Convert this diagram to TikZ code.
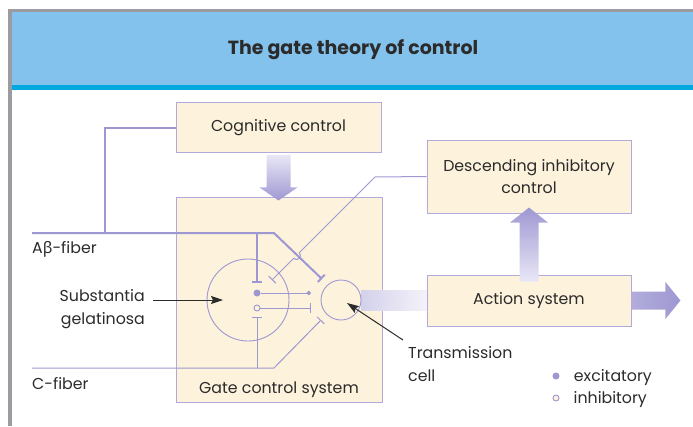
\documentclass[tikz,border=0pt]{standalone}
\usepackage{fontspec}
\setmainfont{Poppins}
\newfontfamily\greekfont{Noto Sans}
\usetikzlibrary{arrows.meta,positioning,calc}
\definecolor{frame_gray}{HTML}{9B9BA0}
\definecolor{header_blue}{HTML}{82C2EC}
\definecolor{header_line}{HTML}{00A8E0}
\definecolor{cream}{HTML}{FDF2DC}
\definecolor{lilac}{HTML}{9E98D2}
\definecolor{lilac_box}{HTML}{B0ABDC}
\definecolor{lilac_light}{HTML}{E9E7F6}
\definecolor{ink}{HTML}{2B2B2B}
\tikzset{
  title_text/.style={font=\fontsize{19}{22}\selectfont\bfseries\color{ink}},
  label_text/.style={font=\fontsize{15.8}{22.5}\selectfont\color{ink},inner sep=0pt},
  node_box/.style={draw=lilac_box,fill=cream,line width=0.9pt,inner sep=0pt,
    font=\fontsize{15.8}{22.5}\selectfont\color{ink},align=center},
  cell/.style={circle,draw=lilac,line width=0.9pt,inner sep=0pt},
  dot_exc/.style={circle,fill=lilac,minimum size=7pt,inner sep=0pt},
  dot_inh/.style={circle,draw=lilac,fill=cream,line width=0.9pt,minimum size=6pt,inner sep=0pt},
  fiber/.style={draw=lilac,line width=2pt},
  fiber_thin/.style={draw=lilac,line width=1pt},
  inhib/.style={-{Bar[width=10pt]}},
  excit/.style={-{Circle[length=4.5pt]}},
  pointer/.style={-{Stealth[length=12pt,width=8pt,inset=2pt]},draw=ink,line width=1pt},
}

\begin{document}
\begin{tikzpicture}[x=1pt,y=-1pt,node distance=14pt]
  \useasboundingbox (0,0) rectangle (693,426);
  % frame and title bar
  \fill[frame_gray] (8,9) rectangle (693,12);
  \fill[frame_gray] (8,9) rectangle (12,426);
  \fill[header_blue] (12,12) rectangle (693,85);
  \fill[header_line] (12,85) rectangle (693,90);
  \node[title_text] (title) at (353,50) {The gate theory of control};

  % boxes
  \node[node_box,minimum width=205pt,minimum height=50pt] (cog) at (278.5,127.5) {Cognitive control};
  \node[node_box,minimum width=206pt,minimum height=205pt] (gate) at (279,299.5) {};
  \node[label_text,above=5pt of gate.south] (gate_lbl) {Gate control system};
  \node[node_box,minimum width=204pt,minimum height=73pt] (dic) at (529,176.5) {Descending inhibitory\\control};
  \node[node_box,minimum width=204pt,minimum height=51pt] (act) at (529,300.5) {Action system};

  % block arrows
  \shade[top color=lilac_light,bottom color=lilac]
    ($(cog.south)+(-12,2)$) -- ($(cog.south)+(12,2)$) -- ($(cog.south)+(12,34.5)$) -- ($(cog.south)+(19,34.5)$)
    -- ($(cog.south)+(0,47.5)$) -- ($(cog.south)+(-19,34.5)$) -- ($(cog.south)+(-12,34.5)$) -- cycle;
  \shade[left color=lilac!45!white,right color=lilac!12!white]
    ($(341,300)+(20,-9.5)$) rectangle ($(act.west)+(0,9.5)$);
  \shade[bottom color=lilac_light,top color=lilac]
    ($(act.north)+(-9.5,7)$) -- ($(act.north)+(9.5,7)$) -- ($(act.north)+(9.5,-52)$) -- ($(act.north)+(19,-52)$)
    -- ($(act.north)+(0,-67)$) -- ($(act.north)+(-19,-52)$) -- ($(act.north)+(-9.5,-52)$) -- cycle;
  \shade[left color=lilac!80!white,right color=lilac]
    ($(act.east)+(0,-9)$) -- ($(act.east)+(34,-9)$) -- ($(act.east)+(34,-18.5)$) -- ($(act.east)+(49,0)$)
    -- ($(act.east)+(34,18.5)$) -- ($(act.east)+(34,9)$) -- ($(act.east)+(0,9)$) -- cycle;

  % cells
  \node[cell,minimum size=82pt] (sg) at (248,300) {};
  \node[cell,fill=cream,minimum size=40pt] (tc) at (341,300) {};
  \node[dot_exc] (exc) at (257,293) {};
  \node[dot_inh] (inh) at (257,308) {};

  % fibers
  \coordinate (ab_in) at (32,233);
  \coordinate (ab_link) at (105,233);
  \coordinate (ab_knee) at (274,233);
  \coordinate (ab_split) at (257,233);
  \coordinate (ab_stop) at (257,283);
  \coordinate (ab_tc) at (322,279);
  \coordinate (c_in) at (32,368);
  \coordinate (c_knee) at (274,368);
  \coordinate (c_split) at (257,368);
  \coordinate (c_stop) at (257,317);
  \coordinate (c_tc) at (321,320);
  \coordinate (exc_stop) at (311,293);
  \coordinate (inh_stop) at (311,308);
  \coordinate (dic_knee) at (375,177);
  \coordinate (dic_stop) at (272,280);
  \draw[fiber] (cog.west) -| (ab_link);
  \draw[fiber,inhib] (ab_in) -- (ab_knee) -- (ab_tc);
  \draw[fiber,inhib] (ab_split) -- (ab_stop);
  \draw[fiber_thin,inhib] (c_in) -- (c_knee) -- (c_tc);
  \draw[fiber_thin,inhib] (c_split) -- (c_stop);
  \draw[fiber_thin,excit] (exc) -- (exc_stop);
  \draw[fiber_thin,inhib] (inh) -- (inh_stop);
  \draw[fiber_thin,inhib] (dic.west) -- (dic_knee) -- (299.3,252.7)
    arc[start angle=-45,end angle=135,radius=4] -- (dic_stop);

  % labels
  \node[label_text,anchor=west] (ab_lbl) at (32,249) {A{\greekfont β}-fiber};
  \node[label_text,anchor=west] (c_lbl) at (32,384) {C-fiber};
  \node[label_text,anchor=east,align=right] (sg_lbl) at (145,309) {Substantia\\gelatinosa};
  \node[label_text,anchor=west,align=left] (tc_lbl) at (408,364) {Transmission\\cell};
  \coordinate (sg_tail) at (153,300);
  \coordinate (sg_head) at (223,300);
  \coordinate (tc_tail) at (403,340);
  \coordinate (tc_head) at (347,303);
  \draw[pointer] (sg_tail) -- (sg_head);
  \draw[pointer] (tc_tail) -- (tc_head);

  % legend
  \node[dot_exc] (leg_exc) at (556,376) {};
  \node[dot_inh] (leg_inh) at (556,398) {};
  \node[label_text,right=of leg_exc,yshift=-2pt] {excitatory};
  \node[label_text,right=of leg_inh,yshift=-2pt] {inhibitory};
\end{tikzpicture}
\end{document}
